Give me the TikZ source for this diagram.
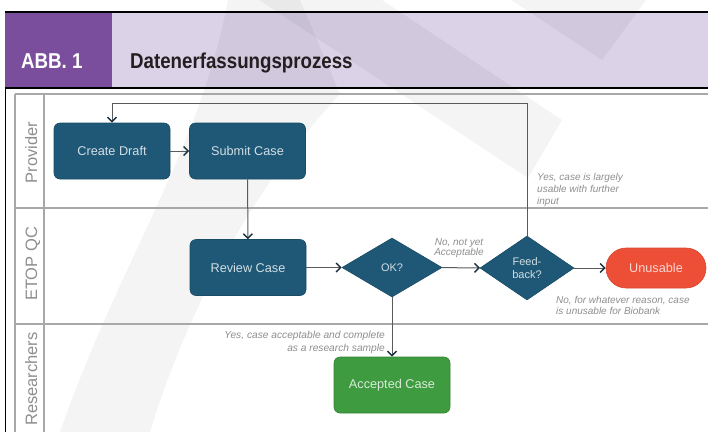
\documentclass[tikz,border=0pt]{standalone}
\usepackage{fontspec}
\setmainfont{Liberation Sans}
\newfontfamily\headfont[FakeStretch=0.87]{Liberation Sans}
\usetikzlibrary{shapes.geometric,arrows.meta}

\definecolor{hdrpurple}{HTML}{7A4E9C}
\definecolor{hdrlav}{HTML}{DBD2E7}
\definecolor{hdrink}{HTML}{231F20}
\definecolor{boxteal}{HTML}{1E5876}
\definecolor{boxgreen}{HTML}{3E9B3F}
\definecolor{boxred}{HTML}{EC4E36}
\definecolor{lanegrey}{HTML}{A8A8A8}
\definecolor{lanetext}{HTML}{8E8E8E}
\definecolor{notegrey}{HTML}{8E8E8E}
\definecolor{wire}{HTML}{5A5A5A}
\definecolor{tipnavy}{HTML}{1C2D3E}

\begin{document}
\begin{tikzpicture}[x=1pt,y=-1pt,
  procbox/.style={draw=boxteal!85!black, line width=0.6pt, fill=boxteal,
    rounded corners=6pt, minimum width=116pt, minimum height=56pt,
    inner sep=0pt, text=white!80!boxteal,
    font=\fontsize{12.7pt}{14pt}\selectfont},
  donebox/.style={procbox, draw=boxgreen!85!black, fill=boxgreen,
    text=white!80!boxgreen},
  failbox/.style={draw=boxred!90!black, line width=0.6pt, fill=boxred,
    rounded corners=20pt, minimum width=100pt, minimum height=40pt,
    inner sep=0pt, text=white!78!boxred,
    font=\fontsize{12.7pt}{14pt}\selectfont},
  decision/.style={diamond, draw=boxteal!85!black, line width=0.6pt,
    fill=boxteal, inner sep=0pt, text=white!80!boxteal, align=center,
    font=\fontsize{11pt}{12.5pt}\selectfont},
  conn/.style={draw=wire, line width=1pt,
    -{Straight Barb[length=4.5pt,width=9pt,line width=1.4pt,color=tipnavy]}},
  note/.style={text=notegrey, inner sep=0pt},
  lanelabel/.style={rotate=90, anchor=base, inner sep=0pt, text=lanetext,
    font=\fontsize{16.5pt}{18pt}\selectfont},
  laneline/.style={draw=lanegrey, line width=1.4pt},
  watermark/.style={fill=black, fill opacity=0.045, draw=none}
]
\useasboundingbox (0,0) rectangle (708,432);

% header band
\fill[hdrlav] (5,12) rectangle (708,88);
\fill[hdrpurple] (5,12) rectangle (112,88);

% faint background emblem
\fill[watermark] (259,0) -- (382,0) -- (562,120) -- (528,178) -- cycle;
\fill[watermark] (511,0) -- (646,0) -- (602,60) -- cycle;
\fill[watermark] (228,0) .. controls (200,150) and (120,260) .. (60,432)
  -- (150,432) .. controls (190,300) and (260,180) .. (340,94) -- (300,0) -- cycle;

% header rules and titles
\draw[black, line width=2pt] (5,12) -- (708,12);
\draw[black, line width=1.3pt] (5,88) -- (708,88);
\draw[black, line width=1.3pt] (5.6,88) -- (5.6,432);
\node[anchor=base west, inner sep=0pt, text=white,
  font=\headfont\bfseries\fontsize{21.5pt}{24pt}\selectfont] (abb) at (21,68) {ABB. 1};
\node[anchor=base west, inner sep=0pt, text=hdrink,
  font=\headfont\bfseries\fontsize{21.5pt}{24pt}\selectfont] (title) at (130,68) {Datenerfassungsprozess};

% swimlane grid
\draw[laneline, line width=1.8pt] (15,94) -- (708,94);
\draw[laneline] (15,208) -- (708,208);
\draw[laneline] (15,324) -- (708,324);
\draw[laneline, line width=1.1pt] (15,94) -- (15,432);
\draw[laneline, line width=1.1pt] (44,94) -- (44,432);
\node[lanelabel] (lprov) at (37,152.5) {Provider};
\node[lanelabel] (letop) at (37,264) {ETOP QC};
\node[lanelabel] (lres) at (37,379) {Researchers};

% process steps
\node[procbox] (draft) at (112,151) {Create Draft};
\node[procbox] (submit) at (247.5,151) {Submit Case};
\node[procbox] (review) at (248,267.5) {Review Case};
\node[decision, minimum width=100pt, minimum height=59pt] (ok) at (392,267.5) {OK?};
\node[decision, minimum width=94pt, minimum height=64pt] (fb) at (527,268) {Feed-\\back?};
\node[failbox] (unusable) at (656,268) {Unusable};
\node[donebox] (accepted) at (392,385) {Accepted Case};

% connectors
\coordinate (looptop) at (527,103);
\draw[conn] (draft) -- (submit);
\draw[conn] (submit) -- (review);
\draw[conn] (review) -- (ok);
\draw[conn] (ok) -- (fb);
\draw[conn] (fb) -- (unusable);
\draw[conn] (fb.north) -- (looptop) -| (draft.north);
\draw[conn] (ok.south) -- (accepted.north);

% branch notes
\node[note, anchor=north west, align=left,
  font=\fontsize{10pt}{12pt}\itshape\selectfont] (nfurther) at (537,172.8)
  {Yes, case is largely\\usable with further\\input};
\node[note, anchor=north, align=center,
  font=\fontsize{10pt}{10.5pt}\itshape\selectfont] (nnotyet) at (459,238)
  {No, not yet\\Acceptable};
\node[note, anchor=north west, align=left,
  font=\fontsize{10pt}{10.6pt}\itshape\selectfont] (nreason) at (556,296.2)
  {No, for whatever reason, case\\is unusable for Biobank};
\node[note, anchor=north east, align=right,
  font=\fontsize{10.2pt}{13pt}\itshape\selectfont] (naccept) at (385,331)
  {Yes, case acceptable and complete\\as a research sample};
\end{tikzpicture}
\end{document}
